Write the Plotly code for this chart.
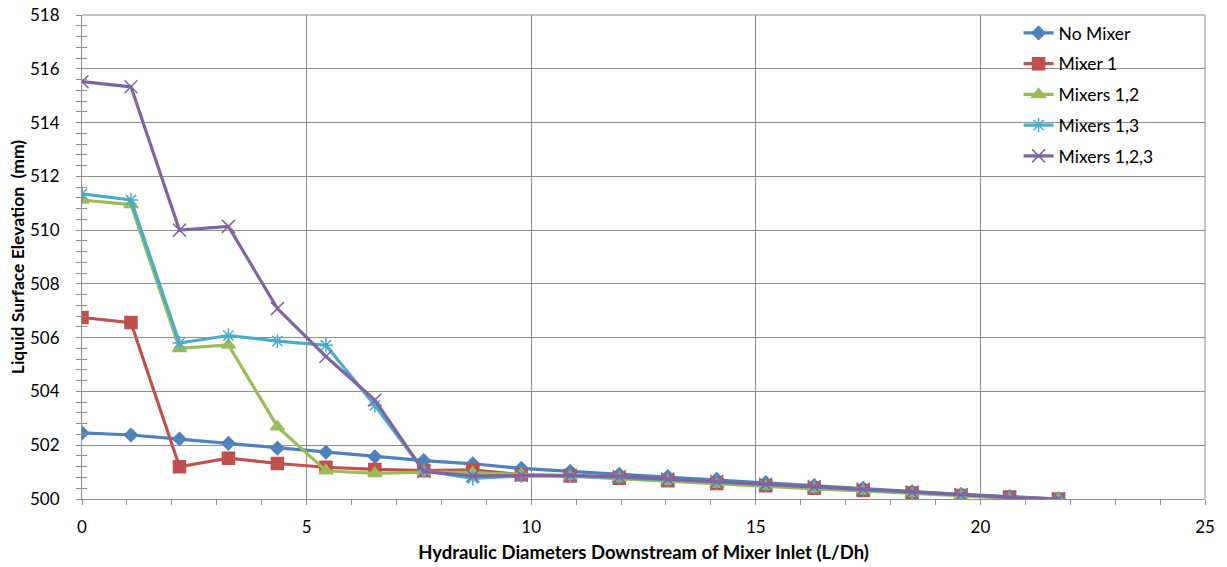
import plotly.graph_objects as go

x_vals = [0, 1.09, 2.17, 3.26, 4.35, 5.43, 6.52, 7.61, 8.70, 9.78, 10.87,
          11.96, 13.04, 14.13, 15.22, 16.30, 17.39, 18.48, 19.57, 20.65, 21.74]

no_mixer = [502.46, 502.38, 502.23, 502.07, 501.89, 501.74, 501.57, 501.43, 501.31, 501.14, 501.03,
            500.92, 500.83, 500.73, 500.61, 500.50, 500.40, 500.28, 500.17, 500.09, 500.00]
mixer_1 = [506.75, 506.56, 501.20, 501.52, 501.32, 501.18, 501.10, 501.06, 501.08, 500.90, 500.86,
           500.77, 500.68, 500.58, 500.49, 500.40, 500.32, 500.22, 500.13, 500.07, 500.00]
mixers_12 = [511.12, 510.95, 505.60, 505.73, 502.69, 501.05, 500.95, 501.00, 500.98, 500.92, 500.85,
             500.76, 500.66, 500.56, 500.47, 500.38, 500.30, 500.20, 500.11, 500.03, 500.00]
mixers_13 = [511.35, 511.12, 505.80, 506.08, 505.87, 505.72, 503.48, 501.05, 500.77, 500.86, 500.86,
             500.80, 500.72, 500.63, 500.53, 500.44, 500.35, 500.25, 500.15, 500.06, 500.00]
mixers_123 = [515.52, 515.33, 510.00, 510.14, 507.08, 505.30, 503.68, 501.02, 500.86, 500.88, 500.88,
              500.83, 500.74, 500.65, 500.55, 500.46, 500.36, 500.26, 500.16, 500.06, 500.00]

series_names = ["No Mixer", "Mixer 1", "Mixers 1,2", "Mixers 1,3", "Mixers 1,2,3"]
series_values = [no_mixer, mixer_1, mixers_12, mixers_13, mixers_123]
colors = ["#4F81BD", "#C0504D", "#9BBB59", "#4BACC6", "#8064A2"]
symbols = ["diamond", "square", "triangle-up", "asterisk-open", "x-thin-open"]
sizes = [10, 12, 12, 12, 13]

grid = "#8C8C8C"
fig = go.Figure()
for i, (name, vals, c, s, sz) in enumerate(zip(series_names, series_values, colors, symbols, sizes)):
    fig.add_trace(go.Scatter(
        x=x_vals, y=vals, name=name, mode="lines+markers", legendgroup=f"g{i}",
        line=dict(color=c, width=3.2),
        marker=dict(symbol=s, size=sz, color=c, line=dict(color=c, width=1.5)),
    ))

# invisible trace on an overlay axis to draw the inside half of the crossing y ticks
fig.add_trace(go.Scatter(x=[None], y=[None], yaxis="y2", showlegend=False, hoverinfo="skip"))

font_family = "Lato, 'Open Sans', sans-serif"
fig.update_layout(
    width=1227, height=567,
    margin=dict(l=82, r=22, t=15, b=68, autoexpand=False),
    paper_bgcolor="white", plot_bgcolor="white",
    font=dict(family=font_family, size=17, color="#000000"),
    showlegend=True,
    legend=dict(x=0.834, y=1.0, xanchor="left", yanchor="top",
                bgcolor="rgba(255,255,255,0)", borderwidth=0,
                font=dict(size=17.5), tracegroupgap=5),
    xaxis=dict(
        range=[0, 25], dtick=5, tick0=0, automargin=False,
        showgrid=True, gridcolor=grid, gridwidth=1,
        showline=True, linecolor=grid, linewidth=1, mirror=False,
        ticks="outside", ticklen=5, tickcolor=grid, ticklabelstandoff=8,
        ticklabeloverflow="allow",
        minor=dict(dtick=1, ticks="outside", ticklen=5, tickcolor=grid, showgrid=False),
        zeroline=False, tickfont=dict(size=17),
        title=dict(text="<b>Hydraulic Diameters Downstream of Mixer Inlet (L/Dh)</b>",
                   font=dict(size=18.5), standoff=9),
    ),
    yaxis=dict(
        range=[500, 518], dtick=2, tick0=500, automargin=False,
        showgrid=True, gridcolor=grid, gridwidth=1,
        showline=True, linecolor=grid, linewidth=1,
        ticks="outside", ticklen=5, tickcolor=grid, ticklabelstandoff=13,
        ticklabeloverflow="allow",
        minor=dict(dtick=0.4, ticks="outside", ticklen=5, tickcolor=grid, showgrid=False),
        zeroline=False, tickfont=dict(size=17),
        title=dict(text="<b>Liquid Surface Elevation  (mm)</b>", font=dict(size=17.5), standoff=0),
    ),
    yaxis2=dict(
        range=[500, 518], dtick=2, tick0=500, overlaying="y", side="left",
        showgrid=False, showline=False, showticklabels=False, zeroline=False,
        ticks="inside", ticklen=5, tickcolor=grid,
        minor=dict(dtick=0.4, ticks="inside", ticklen=5, tickcolor=grid, showgrid=False),
    ),
)
fig.add_shape(type="line", xref="paper", yref="paper", x0=1, x1=1, y0=0, y1=1,
              line=dict(color=grid, width=1))
fig.add_shape(type="line", xref="paper", yref="paper", x0=0, x1=1, y0=1, y1=1,
              line=dict(color=grid, width=1))

fig.write_html("out.html", config={"displayModeBar": False},
               post_script="document.body.style.margin='0';")
